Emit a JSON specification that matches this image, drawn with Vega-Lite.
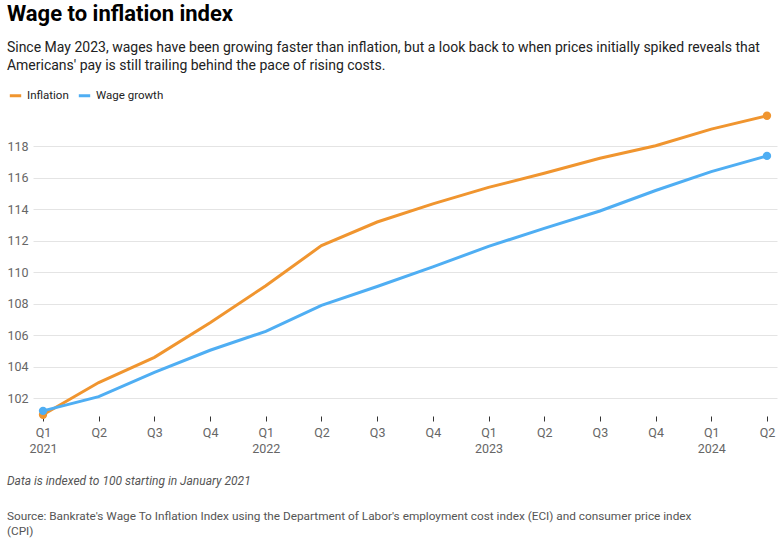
{
  "$schema": "https://vega.github.io/schema/vega-lite/v6.json",
  "padding": {"left": 6, "top": 2, "right": 8, "bottom": 0},
  "background": "#ffffff",
  "config": {
    "font": "Roboto",
    "view": {"stroke": null},
    "axis": {"labelFont": "Roboto", "labelColor": "#666666", "labelFontSize": 12.5}
  },
  "title": {
    "text": "Data is indexed to 100 starting in January 2021",
    "subtitle": [
      "Source: Bankrate's Wage To Inflation Index using the Department of Labor's employment cost index (ECI) and consumer price index",
      "(CPI)"
    ],
    "orient": "bottom",
    "anchor": "start",
    "offset": 21,
    "font": "Roboto",
    "fontSize": 12,
    "fontStyle": "italic",
    "fontWeight": "normal",
    "color": "#555555",
    "subtitleFont": "Roboto",
    "subtitleFontSize": 11.8,
    "subtitleColor": "#555555",
    "subtitlePadding": 23,
    "subtitleLineHeight": 15
  },
  "vconcat": [
    {
      "title": {
        "text": "Wage to inflation index",
        "subtitle": [
          "Since May 2023, wages have been growing faster than inflation, but a look back to when prices initially spiked reveals that",
          "Americans' pay is still trailing behind the pace of rising costs."
        ],
        "anchor": "start",
        "font": "Roboto",
        "fontSize": 22,
        "fontWeight": "bold",
        "color": "#000000",
        "subtitleFont": "Roboto",
        "subtitleFontSize": 14,
        "subtitleColor": "#222222",
        "subtitlePadding": 15,
        "subtitleLineHeight": 18,
        "offset": 36
      },
      "width": 744,
      "height": 299,
      "data": {
        "values": [
          {"period": "2021-Q1", "series": "Inflation", "value": 100.95},
          {"period": "2021-Q2", "series": "Inflation", "value": 103.0},
          {"period": "2021-Q3", "series": "Inflation", "value": 104.6},
          {"period": "2021-Q4", "series": "Inflation", "value": 106.8},
          {"period": "2022-Q1", "series": "Inflation", "value": 109.15},
          {"period": "2022-Q2", "series": "Inflation", "value": 111.7},
          {"period": "2022-Q3", "series": "Inflation", "value": 113.2},
          {"period": "2022-Q4", "series": "Inflation", "value": 114.35},
          {"period": "2023-Q1", "series": "Inflation", "value": 115.4},
          {"period": "2023-Q2", "series": "Inflation", "value": 116.3},
          {"period": "2023-Q3", "series": "Inflation", "value": 117.25},
          {"period": "2023-Q4", "series": "Inflation", "value": 118.05},
          {"period": "2024-Q1", "series": "Inflation", "value": 119.1},
          {"period": "2024-Q2", "series": "Inflation", "value": 119.95},
          {"period": "2021-Q1", "series": "Wage growth", "value": 101.2},
          {"period": "2021-Q2", "series": "Wage growth", "value": 102.1},
          {"period": "2021-Q3", "series": "Wage growth", "value": 103.65},
          {"period": "2021-Q4", "series": "Wage growth", "value": 105.05},
          {"period": "2022-Q1", "series": "Wage growth", "value": 106.25},
          {"period": "2022-Q2", "series": "Wage growth", "value": 107.9},
          {"period": "2022-Q3", "series": "Wage growth", "value": 109.1},
          {"period": "2022-Q4", "series": "Wage growth", "value": 110.35},
          {"period": "2023-Q1", "series": "Wage growth", "value": 111.65},
          {"period": "2023-Q2", "series": "Wage growth", "value": 112.8},
          {"period": "2023-Q3", "series": "Wage growth", "value": 113.9},
          {"period": "2023-Q4", "series": "Wage growth", "value": 115.2},
          {"period": "2024-Q1", "series": "Wage growth", "value": 116.4},
          {"period": "2024-Q2", "series": "Wage growth", "value": 117.4}
        ]
      },
      "encoding": {
        "x": {
          "field": "period",
          "type": "ordinal",
          "scale": {"type": "point", "padding": 0.18},
          "axis": {
            "title": null,
            "labelAngle": 0,
            "domain": false,
            "grid": false,
            "ticks": true,
            "tickColor": "#333333",
            "tickSize": 5,
            "tickWidth": 1,
            "offset": 2,
            "labelPadding": 5,
            "labelLineHeight": 16,
            "labelExpr": "substring(datum.value, 5) == 'Q1' ? ['Q1', substring(datum.value, 0, 4)] : substring(datum.value, 5)"
          }
        },
        "y": {
          "field": "value",
          "type": "quantitative",
          "scale": {"domain": [101, 120], "nice": false, "zero": false},
          "axis": {
            "title": null,
            "values": [102, 104, 106, 108, 110, 112, 114, 116, 118],
            "domain": false,
            "ticks": false,
            "grid": true,
            "gridColor": "#e4e4e4",
            "labelPadding": 5
          }
        },
        "color": {
          "field": "series",
          "type": "nominal",
          "scale": {"domain": ["Inflation", "Wage growth"], "range": ["#F0952F", "#4FAEF3"]},
          "legend": {
            "title": null,
            "orient": "none",
            "direction": "horizontal",
            "legendX": -25,
            "legendY": -27,
            "symbolType": "stroke",
            "symbolStrokeWidth": 3,
            "symbolSize": 130,
            "labelFontSize": 11.5,
            "labelColor": "#222222",
            "labelOffset": 4,
            "columnPadding": 3
          }
        }
      },
      "layer": [
        {"mark": {"type": "line", "strokeWidth": 3, "clip": false}},
        {
          "transform": [{"filter": "datum.period == '2021-Q1' || datum.period == '2024-Q2'"}],
          "mark": {"type": "circle", "size": 70, "opacity": 1, "clip": false}
        }
      ]
    }
  ]
}
